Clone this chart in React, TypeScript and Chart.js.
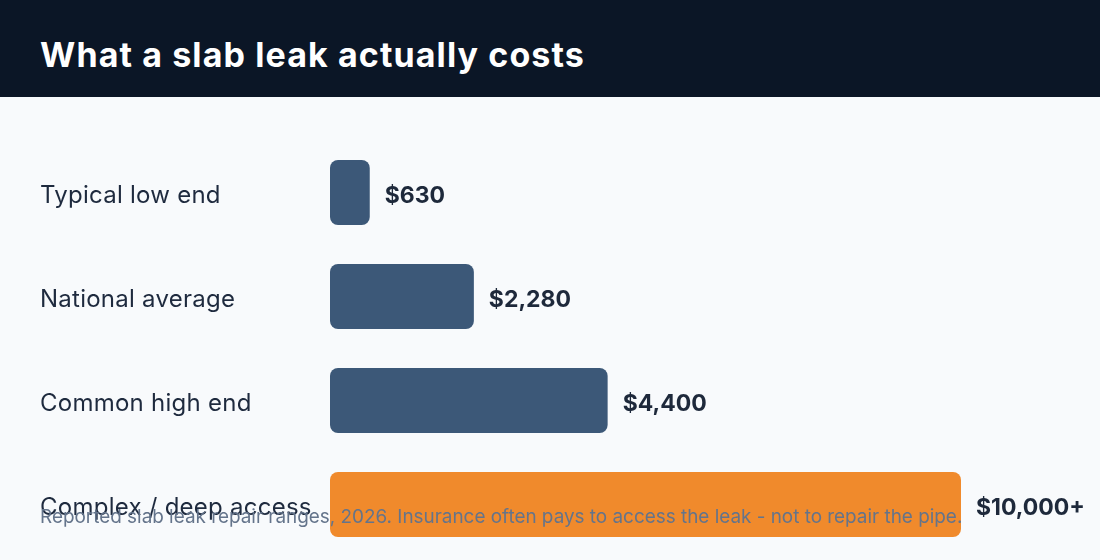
import React, { useEffect, useRef } from "react";
import { Chart, registerables } from "chart.js";

Chart.register(...registerables);

const categories = ["Typical low end", "National average", "Common high end", "Complex / deep access"];
const costs = [630, 2280, 4400, 10000];
const valueLabels = ["$630", "$2,280", "$4,400", "$10,000+"];
const barColors = ["#3c5878", "#3c5878", "#3c5878", "#f08a2c"];
const title = "What a slab leak actually costs";
const footnote = "Reported slab leak repair ranges, 2026. Insurance often pays to access the leak - not to repair the pipe.";

const FONT = "Inter, 'Open Sans', sans-serif";

export default function App() {
  const ref = useRef<HTMLCanvasElement | null>(null);

  useEffect(() => {
    if (!ref.current) return;
    const labelPlugin = {
      id: "barLabels",
      afterDatasetsDraw(chart: any) {
        const ctx = chart.ctx;
        const meta = chart.getDatasetMeta(0);
        const yScale = chart.scales.y;
        ctx.save();
        ctx.textAlign = "left";
        ctx.textBaseline = "middle";
        // category labels
        ctx.font = `400 24px ${FONT}`;
        ctx.fillStyle = "#1e2a3e";
        (ctx as any).letterSpacing = "0.25px";
        categories.forEach((c, i) => {
          ctx.fillText(c, 40, yScale.getPixelForValue(i) + 3);
        });
        (ctx as any).letterSpacing = "0px";
        // value labels
        ctx.font = `700 23px ${FONT}`;
        ctx.fillStyle = "#1e293b";
        meta.data.forEach((bar: any, i: number) => {
          ctx.fillText(valueLabels[i], bar.x + 15, bar.y + 3.5);
        });
        ctx.restore();
      },
    };
    const chart = new Chart(ref.current, {
      type: "bar",
      data: {
        labels: categories,
        datasets: [
          {
            data: costs,
            backgroundColor: barColors,
            borderRadius: 8,
            borderSkipped: false,
            barPercentage: 0.625,
            categoryPercentage: 1,
          },
        ],
      },
      options: {
        indexAxis: "y",
        animation: false,
        responsive: false,
        maintainAspectRatio: false,
        layout: { padding: { left: 330, right: 139, top: 43.5, bottom: 3.5 } },
        plugins: { legend: { display: false }, tooltip: { enabled: false } },
        scales: {
          x: { display: false, min: 0, max: 10000 },
          y: { display: false },
        },
      },
      plugins: [labelPlugin],
    });
    return () => chart.destroy();
  }, []);

  return (
    <div style={{ position: "fixed", left: 0, top: 0, width: 1100, height: 560, background: "#f8fafc", overflow: "hidden" }}>
      <div style={{ height: 97, background: "#0b1626", position: "relative" }}>
        <div
          style={{
            position: "absolute",
            left: 40,
            top: 0,
            height: 97,
            lineHeight: "110px",
            color: "#ffffff",
            fontFamily: FONT,
            fontWeight: 700,
            fontSize: 34,
            letterSpacing: 1.1,
            whiteSpace: "nowrap",
          }}
        >
          {title}
        </div>
      </div>
      <canvas ref={ref} width={1100} height={463} style={{ display: "block", width: 1100, height: 463 }} />
      <div
        style={{
          position: "absolute",
          left: 40,
          top: 505,
          lineHeight: "24px",
          color: "#64748b",
          fontFamily: FONT,
          fontSize: 18.9,
          whiteSpace: "nowrap",
        }}
      >
        {footnote}
      </div>
    </div>
  );
}
